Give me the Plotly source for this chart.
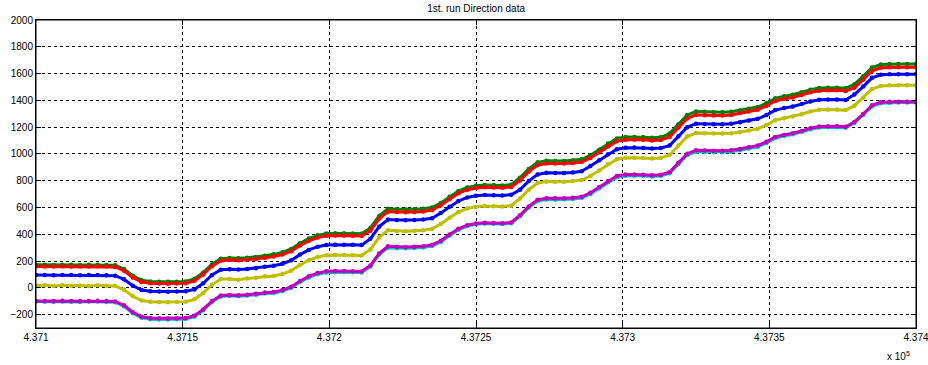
import plotly.graph_objects as go

# x positions: offset (in x units) from 437100, one sample every 3 units
x_offsets = list(range(0, 301, 3))
x_base = 437100

green = [172, 172, 171, 173, 172, 171, 172, 173, 171, 168,
         140, 90, 57, 48, 46, 45, 46, 48, 66, 114, 176,
         218, 222, 220, 224, 230, 240,
         250, 265, 290, 333, 368, 392, 405, 407, 407, 406, 404,
         447, 537, 590, 587, 585, 587, 590, 600,
         633, 680, 723, 750, 763, 768, 767, 765, 770,
         822, 888, 937, 949, 948, 948, 952, 960,
         990, 1032, 1077, 1115, 1126, 1127, 1125, 1120, 1124,
         1152, 1222, 1290, 1316, 1314, 1312, 1312, 1315,
         1325, 1337, 1350, 1378, 1415, 1430, 1442, 1460, 1480, 1492, 1495, 1495, 1490,
         1520, 1580, 1645, 1668, 1672, 1672, 1672, 1672]

red = [160, 160, 159, 161, 160, 159, 160, 161, 159, 156,
       128, 77, 43, 34, 32, 31, 32, 34, 52, 100, 161,
       203, 207, 205, 209, 215, 225,
       233, 248, 273, 316, 351, 375, 388, 390, 390, 389, 387,
       427, 517, 570, 567, 565, 567, 570, 580,
       616, 663, 706, 733, 746, 751, 750, 748, 753,
       802, 868, 917, 929, 928, 928, 932, 940,
       970, 1012, 1057, 1095, 1106, 1107, 1105, 1100, 1104,
       1127, 1197, 1265, 1291, 1289, 1287, 1287, 1290,
       1305, 1317, 1330, 1358, 1395, 1410, 1422, 1440, 1460, 1472, 1475, 1475, 1470,
       1495, 1555, 1620, 1643, 1647, 1647, 1647, 1647]

blue = [95, 95, 94, 96, 95, 94, 95, 96, 94, 91,
        64, 15, -17, -26, -28, -29, -28, -26, -12, 34, 96,
        135, 139, 137, 141, 147, 157,
        165, 180, 205, 248, 283, 307, 320, 322, 322, 321, 319,
        367, 457, 510, 507, 505, 507, 510, 520,
        558, 605, 648, 675, 688, 693, 692, 690, 695,
        732, 798, 847, 859, 858, 858, 862, 870,
        910, 952, 997, 1035, 1046, 1047, 1045, 1040, 1044,
        1062, 1132, 1200, 1226, 1224, 1222, 1222, 1225,
        1237, 1249, 1262, 1290, 1327, 1342, 1354, 1372, 1392, 1404, 1407, 1407, 1402,
        1443, 1503, 1568, 1591, 1595, 1595, 1595, 1595]

yellow = [17, 19, 14, 20, 15, 18, 14, 19, 16, 13,
          -14, -63, -95, -104, -106, -107, -106, -104, -86, -39, 23,
          65, 66, 60, 70, 76, 86,
          88, 103, 128, 171, 206, 230, 243, 245, 245, 244, 242,
          287, 377, 430, 425, 423, 427, 430, 440,
          476, 523, 566, 593, 606, 611, 610, 608, 613,
          667, 733, 782, 794, 792, 793, 797, 805,
          835, 877, 922, 960, 971, 972, 970, 965, 969,
          992, 1062, 1130, 1156, 1154, 1152, 1152, 1155,
          1162, 1174, 1187, 1215, 1252, 1267, 1279, 1297, 1317, 1329, 1332, 1332, 1327,
          1360, 1420, 1485, 1508, 1512, 1512, 1512, 1512]

magenta = [-98, -98, -99, -97, -98, -99, -98, -97, -99, -102,
           -130, -182, -216, -226, -228, -229, -228, -226, -208, -161, -99,
           -57, -53, -55, -51, -45, -35,
           -32, -17, 8, 51, 86, 110, 123, 125, 125, 124, 122,
           167, 257, 310, 307, 305, 307, 310, 320,
           351, 398, 441, 468, 481, 486, 485, 483, 488,
           542, 608, 657, 669, 668, 668, 672, 680,
           710, 752, 797, 835, 846, 847, 845, 840, 844,
           864, 934, 1002, 1028, 1026, 1024, 1024, 1027,
           1037, 1049, 1062, 1090, 1127, 1142, 1154, 1172, 1192, 1204, 1207, 1207, 1202,
           1238, 1298, 1363, 1386, 1390, 1390, 1390, 1390]

cyan = [-103, -104, -105, -102, -104, -105, -103, -103, -106, -108,
        -137, -190, -224, -234, -236, -237, -235, -233, -215, -168, -106,
        -64, -60, -62, -58, -52, -42,
        -40, -25, 0, 43, 78, 102, 115, 116, 117, 116, 114,
        159, 249, 300, 296, 295, 298, 301, 312,
        343, 390, 433, 461, 475, 480, 479, 477, 482,
        534, 600, 648, 659, 658, 659, 663, 671,
        701, 743, 788, 826, 836, 838, 836, 832, 836,
        855, 925, 992, 1016, 1015, 1013, 1013, 1016,
        1028, 1040, 1053, 1081, 1118, 1134, 1147, 1164, 1184, 1197, 1200, 1200, 1196,
        1230, 1290, 1355, 1378, 1382, 1383, 1383, 1384]

x_tick_vals = [437100, 437150, 437200, 437250, 437300, 437350, 437400]
x_tick_text = ["4.371", "4.3715", "4.372", "4.3725", "4.373", "4.3735", "4.374"]
y_tick_vals = [-200, 0, 200, 400, 600, 800, 1000, 1200, 1400, 1600, 1800, 2000]

x = [x_base + o for o in x_offsets]

series = [
    ("green", green, "#008000"),
    ("red", red, "#ff0000"),
    ("blue", blue, "#0000ff"),
    ("yellow", yellow, "#bfbf00"),
    ("cyan", cyan, "#00bfbf"),
    ("magenta", magenta, "#bf00bf"),
]

fig = go.Figure()
for name, vals, col in series:
    fig.add_trace(go.Scatter(
        x=x, y=vals, mode="lines+markers", name=name,
        line=dict(color=col, width=3),
        marker=dict(color=col, size=4.5, symbol="circle"),
        showlegend=False, cliponaxis=True,
    ))

font = dict(family="Liberation Sans Narrow, Liberation Sans, Arial", size=10, color="#000000")

fig.update_layout(
    width=928, height=365,
    margin=dict(l=36, r=12, t=20, b=37),
    paper_bgcolor="white", plot_bgcolor="white",
    font=font,
    title=dict(text="1st. run Direction data", x=0.513, xanchor="center",
               y=0.985, yanchor="top", font=dict(size=10, family=font["family"])),
    xaxis=dict(range=[437100, 437400], tickvals=x_tick_vals, ticktext=x_tick_text,
               automargin=False, ticklabeloverflow="allow",
               showgrid=True, gridcolor="#000000", griddash="3px,3px", gridwidth=1,
               showline=True, linecolor="#000000", linewidth=1, mirror="allticks",
               ticks="inside", ticklen=5, tickcolor="#000000", zeroline=False),
    yaxis=dict(range=[-300, 2000], tickvals=y_tick_vals, automargin=False,
               showgrid=True, gridcolor="#000000", griddash="3px,3px", gridwidth=1,
               showline=True, linecolor="#000000", linewidth=1, mirror="allticks",
               ticks="inside", ticklen=5, tickcolor="#000000", zeroline=False),
    shapes=[dict(type="rect", xref="paper", yref="paper", x0=0, y0=0, x1=1, y1=1,
                 line=dict(color="#000000", width=1), fillcolor="rgba(0,0,0,0)",
                 layer="above")],
    annotations=[dict(text="x 10<sup>5</sup>", xref="paper", yref="paper",
                      x=0.995, y=-0.065, xanchor="right", yanchor="top",
                      showarrow=False, font=dict(size=10, family=font["family"]))],
)

fig.write_html("out.html")
